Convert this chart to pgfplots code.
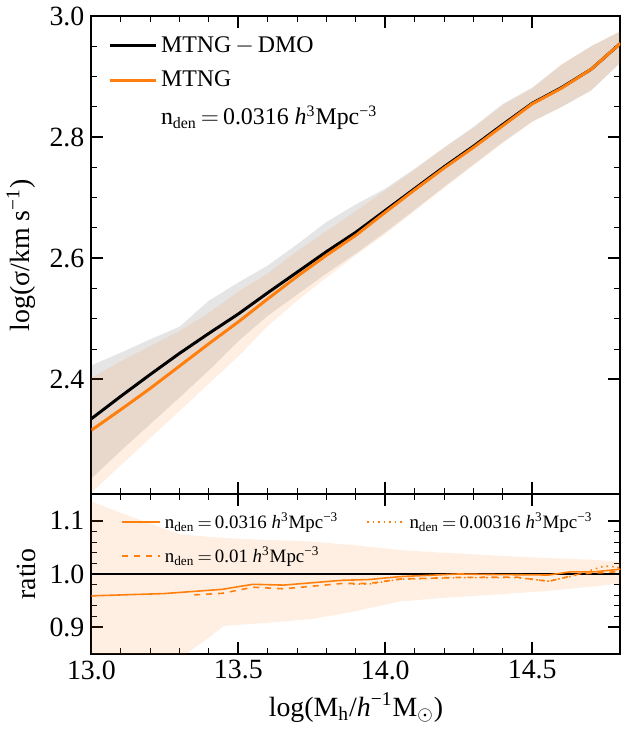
\documentclass[border=0pt]{standalone}
\usepackage{fontspec}
\setmainfont{Liberation Serif}
\usepackage{pgfplots}
\usepackage{pgfplotstable}
\pgfplotsset{compat=1.18}
\usepgfplotslibrary{fillbetween}

\definecolor{mtng}{RGB}{255,127,14}

% log sigma vs log M, with 16-84 bands
\pgfplotstableread{
x    dmo   dlo   dhi   mtng  mlo   mhi
13.0 2.335 2.236 2.423 2.316 2.213 2.403
13.1 2.372 2.282 2.444 2.350 2.258 2.430
13.2 2.408 2.326 2.466 2.385 2.303 2.455
13.3 2.443 2.370 2.487 2.422 2.348 2.480
13.4 2.476 2.415 2.530 2.459 2.393 2.510
13.5 2.508 2.463 2.560 2.495 2.438 2.545
13.6 2.543 2.505 2.588 2.533 2.488 2.575
13.7 2.577 2.540 2.623 2.570 2.530 2.612
13.8 2.611 2.575 2.660 2.605 2.568 2.645
13.9 2.643 2.608 2.689 2.638 2.605 2.678
14.0 2.679 2.643 2.715 2.676 2.640 2.712
14.1 2.715 2.680 2.748 2.713 2.678 2.746
14.2 2.751 2.718 2.783 2.749 2.716 2.782
14.3 2.785 2.755 2.817 2.783 2.753 2.815
14.4 2.821 2.792 2.855 2.819 2.790 2.853
14.5 2.856 2.826 2.882 2.855 2.825 2.880
14.6 2.882 2.850 2.920 2.881 2.850 2.920
14.7 2.912 2.877 2.950 2.912 2.877 2.950
14.8 2.955 2.923 2.975 2.955 2.923 2.975
}\sigtab

% ratio band
\pgfplotstableread{
x     lo    hi
13.0  0.740 1.137
13.1  0.765 1.115
13.2  0.800 1.095
13.3  0.840 1.075
13.4  0.880 1.070
13.45 0.902 1.068
13.6  0.908 1.064
13.75 0.915 1.061
13.9  0.930 1.054
14.05 0.948 1.045
14.2  0.955 1.040
14.4  0.962 1.034
14.55 0.968 1.030
14.7  0.976 1.027
14.8  0.982 1.023
}\bandtab

\begin{document}
\begin{tikzpicture}
\pgfplotsset{
  every axis/.append style={
    scale only axis, width=266pt,
    xmin=13, xmax=14.8,
    xtick={13,13.5,14,14.5}, minor x tick num=4,
    tick align=inside,
    major tick length=6pt, minor tick length=3pt,
    every major tick/.append style={line width=0.9pt, black},
    every minor tick/.append style={line width=0.5pt, black},
    axis line style={line width=1pt},
    tick label style={font=\fontsize{14}{16}\selectfont},
    label style={font=\fontsize{14}{16}\selectfont},
    /pgf/number format/assume math mode=true,
    /pgf/number format/.cd, fixed, fixed zerofill, precision=1,
  },
}
\begin{axis}[
  name=top, height=240.5pt,
  ymin=2.21, ymax=3.0,
  ytick={2.4,2.6,2.8,3.0}, minor y tick num=3,
  xticklabels={},
  ylabel={log(σ/km s\textsuperscript{−1})},
  legend cell align=left,
  legend style={draw=none, fill=none, at={(0.02,0.975)}, anchor=north west,
    font=\fontsize{12}{14}\selectfont, row sep=4pt},
  legend image code/.code={\draw[#1] (0pt,0pt) -- (23pt,0pt);},
]
\addplot[draw=none, name path=dlo, forget plot] table[x=x, y=dlo] {\sigtab};
\addplot[draw=none, name path=dhi, forget plot] table[x=x, y=dhi] {\sigtab};
\addplot[fill=black, fill opacity=0.1, draw=none, forget plot] fill between[of=dhi and dlo];
\addplot[draw=none, name path=mlo, forget plot] table[x=x, y=mlo] {\sigtab};
\addplot[draw=none, name path=mhi, forget plot] table[x=x, y=mhi] {\sigtab};
\addplot[fill=mtng, fill opacity=0.12, draw=none, forget plot] fill between[of=mhi and mlo];
\addplot[black, line width=1.5pt] table[x=x, y=dmo] {\sigtab};
\addlegendentry{MTNG$\,-\,$DMO}
\addplot[mtng, line width=1.5pt] table[x=x, y=mtng] {\sigtab};
\addlegendentry{MTNG}
\addlegendimage{empty legend}
\addlegendentry{n\textsubscript{den}$\,=\,$0.0316 \textit{h}\textsuperscript{3}Mpc\textsuperscript{−3}}
\end{axis}

\begin{axis}[
  at={(top.south west)}, anchor=north west, height=80pt,
  ymin=0.85, ymax=1.15,
  ytick={0.9,1.0,1.1}, minor y tick num=4,
  xlabel={log(M\textsubscript{h}/\textit{h}\textsuperscript{−1}M$_\odot$)},
  ylabel={ratio},
  legend columns=2,
  legend cell align=left,
  legend style={draw=none, fill=none, at={(0.045,0.94)}, anchor=north west,
    font=\fontsize{9.5}{11}\selectfont, row sep=3.5pt,
    /tikz/every even column/.append style={column sep=12pt}},
  legend image code/.code={\draw[#1] (0pt,0pt) -- (19pt,0pt);},
]
\addplot[draw=none, name path=rlo, forget plot] table[x=x, y=lo] {\bandtab};
\addplot[draw=none, name path=rhi, forget plot] table[x=x, y=hi] {\bandtab};
\addplot[fill=mtng, fill opacity=0.12, draw=none, forget plot] fill between[of=rhi and rlo];
\addplot[black, line width=0.6pt, forget plot] coordinates {(13.0,1.0) (14.8,1.0)};
\addplot[mtng, line width=0.8pt] coordinates {
(13.0,0.9587) (13.247,0.963) (13.445,0.971) (13.55,0.9805) (13.654,0.979)
(13.852,0.988) (13.945,0.9895) (14.05,0.995) (14.25,1.000) (14.35,0.999)
(14.556,0.998) (14.63,1.004) (14.71,1.004) (14.8,1.009)};
\addlegendentry{n\textsubscript{den}$\,=\,$0.0316 \textit{h}\textsuperscript{3}Mpc\textsuperscript{−3}}
\addplot[mtng, line width=0.8pt, dotted] coordinates {
(13.89,0.981) (13.945,0.981) (14.05,0.990) (14.25,0.993) (14.446,0.993)
(14.556,0.9865) (14.624,0.9945) (14.70,1.007) (14.745,1.015) (14.79,1.013) (14.8,1.008)};
\addlegendentry{n\textsubscript{den}$\,=\,$0.00316 \textit{h}\textsuperscript{3}Mpc\textsuperscript{−3}}
\addplot[mtng, line width=0.8pt, dashed] coordinates {
(13.35,0.9605) (13.445,0.9635) (13.55,0.975) (13.654,0.972) (13.852,0.982)
(13.945,0.982) (14.05,0.9905) (14.25,0.9935) (14.446,0.994) (14.556,0.986)
(14.66,1.000) (14.76,1.003) (14.8,1.005)};
\addlegendentry{n\textsubscript{den}$\,=\,$0.01 \textit{h}\textsuperscript{3}Mpc\textsuperscript{−3}}
\end{axis}
\end{tikzpicture}
\end{document}
